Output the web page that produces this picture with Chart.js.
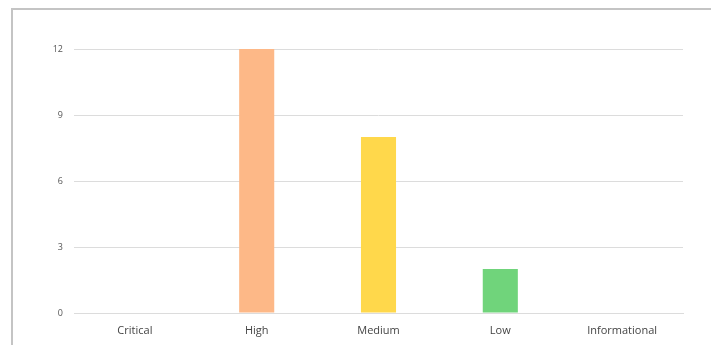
<!DOCTYPE html>
<html>
<head>
<meta charset="utf-8">
<script src="https://cdn.jsdelivr.net/npm/chart.js@4/dist/chart.umd.min.js"></script>
<style>
  html, body { margin: 0; padding: 0; background: #fff; overflow: hidden; }
  #frame {
    position: absolute; left: 11px; top: 8px;
    width: 800px; height: 400px;
    border-left: 2px solid #c4c4c4; border-top: 2px solid #c4c4c4;
  }
  #wrap { position: absolute; left: 0; top: 0; width: 711px; height: 345px; }
</style>
</head>
<body>
<div id="frame"></div>
<div id="wrap"><canvas id="severityChart" width="711" height="345"></canvas></div>
<script>
const categories = ['Critical', 'High', 'Medium', 'Low', 'Informational'];
const counts = [0, 12, 8, 2, 0];
const barColors = ['#f47c7c', '#fdb887', '#ffd84b', '#70d47b', '#8fb8e8'];
const yTicks = [0, 3, 6, 9, 12];

const ctx = document.getElementById('severityChart').getContext('2d');
const chart = new Chart(ctx, {
    type: 'bar',
    data: {
        labels: categories,
        datasets: [{
            label: 'Findings',
            data: counts,
            backgroundColor: barColors,
            borderWidth: 0,
            barPercentage: 0.32,
            categoryPercentage: 0.9
        }]
    },
    options: {
        responsive: false,
        animation: false,
        layout: { padding: { top: 49, right: 28, bottom: 0, left: 0 } },
        plugins: { legend: { display: false }, tooltip: { enabled: false } },
        scales: {
            x: {
                grid: { display: false, drawTicks: false },
                border: { display: true, color: '#dcdcdc' },
                ticks: {
                    padding: 11,
                    maxRotation: 0,
                    color: '#444',
                    font: { family: 'Open Sans', size: 11 }
                },
                afterFit: function (scale) { scale.height = 32; }
            },
            y: {
                min: 0,
                max: 12,
                afterBuildTicks: function (scale) {
                    scale.ticks = yTicks.map(v => ({ value: v }));
                },
                grid: { color: '#dcdcdc', drawTicks: false },
                border: { display: false },
                ticks: {
                    padding: 11,
                    color: '#555',
                    font: { family: 'Open Sans', size: 9 }
                },
                afterFit: function (scale) { scale.width = 74; }
            }
        }
    }
});
</script>
</body>
</html>
